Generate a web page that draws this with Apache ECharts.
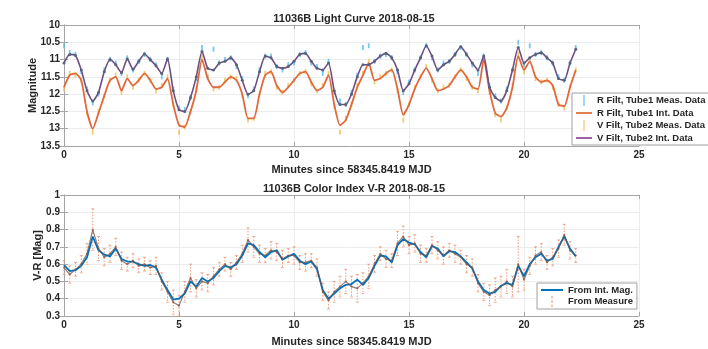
<!DOCTYPE html>
<html>
<head>
<meta charset="utf-8">
<script src="https://cdn.jsdelivr.net/npm/echarts@6/dist/echarts.min.js"></script>
<style>
  html, body { margin: 0; padding: 0; background: #fff; }
  #chart { width: 708px; height: 349px; }
</style>
</head>
<body>
<div id="chart"></div>
<script>
// time axis, minutes since 58345.8419 MJD
const minutes = [
  0, 0.25, 0.5, 0.75, 1, 1.25, 1.5, 1.75, 2, 2.25,
  2.5, 2.75, 3, 3.25, 3.5, 3.75, 4, 4.25, 4.5, 4.75,
  5, 5.25, 5.5, 5.75, 6, 6.25, 6.5, 6.75, 7, 7.25,
  7.5, 7.75, 8, 8.25, 8.5, 8.75, 9, 9.25, 9.5, 9.75,
  10, 10.25, 10.5, 10.75, 11, 11.25, 11.5, 11.75, 12, 12.25,
  12.5, 12.75, 13, 13.25, 13.5, 13.75, 14, 14.25, 14.5, 14.75,
  15, 15.25, 15.5, 15.75, 16, 16.25, 16.5, 16.75, 17, 17.25,
  17.5, 17.75, 18, 18.25, 18.5, 18.75, 19, 19.25, 19.5, 19.75,
  20, 20.25, 20.5, 20.75, 21, 21.25, 21.5, 21.75, 22, 22.25
]

// upper (brighter) curve: blue measured points, purple interpolated line
const upperMeas = [
  10.6, 10.8, 10.85, 11.35, 11.85, 12.25, 12.0, 11.3, 11.0, 11.1,
  11.4, 10.95, 11.3, 11.05, 10.85, 11.0, 11.15, 11.5, 11.0, 11.85,
  12.4, 12.45, 12.1, 11.55, 10.65, 11.5, 10.7, 11.1, 11.0, 10.95,
  11.2, 11.55, 12.05, 11.85, 11.3, 10.9, 10.9, 11.2, 11.3, 11.15,
  11.1, 10.85, 10.8, 11.1, 11.2, 11.4, 11.05, 11.95, 12.2, 12.3,
  11.95, 11.45, 10.65, 10.6, 11.05, 10.9, 10.85, 10.95, 11.35, 11.95,
  11.65, 11.3, 10.95, 10.6, 10.95, 11.3, 11.1, 11.05, 10.85, 10.65,
  10.85, 11.15, 11.4, 10.9, 11.75, 12.05, 12.2, 11.85, 11.3, 10.5,
  11.15, 10.6, 10.85, 10.8, 10.95, 11.1, 11.5, 11.6, 11.1, 10.65
]
const upperInt = [
  11.1, 10.85, 10.88, 11.3, 11.9, 12.2, 11.95, 11.35, 11.0, 11.15,
  11.38, 10.98, 11.28, 11.05, 10.84, 11.0, 11.18, 11.4, 10.98, 11.9,
  12.45, 12.5, 12.1, 11.5, 10.77, 11.25, 11.3, 11.1, 11.05, 10.95,
  11.15, 11.6, 12.0, 11.9, 11.35, 10.9, 10.95, 11.2, 11.25, 11.2,
  11.05, 10.85, 10.82, 11.05, 11.25, 11.3, 11.1, 11.9, 12.3, 12.3,
  12.0, 11.5, 11.15, 11.15, 11.05, 10.9, 10.82, 10.95, 11.3, 11.9,
  11.7, 11.3, 10.95, 10.6, 10.9, 11.3, 11.15, 11.05, 10.85, 10.63,
  10.85, 11.1, 11.3, 10.9, 11.8, 12.1, 12.2, 11.9, 11.3, 10.65,
  11.1, 10.95, 10.85, 10.8, 10.95, 11.1, 11.55, 11.6, 11.1, 10.7
]

// lower (fainter) curve: yellow measured points, orange interpolated line
const lowerMeas = [
  11.85, 11.4, 11.45, 11.6, 12.55, 13.1, 12.5, 12.05, 11.6, 11.45,
  11.95, 11.5, 11.8, 11.6, 11.4, 11.6, 11.9, 11.75, 11.5, 12.3,
  13.1, 12.95, 12.5, 11.85, 10.95, 11.5, 11.85, 11.8, 11.6, 11.5,
  11.55, 12.05, 12.75, 12.7, 12.0, 11.4, 11.35, 11.8, 11.95, 11.75,
  11.6, 11.4, 11.35, 11.7, 11.9, 11.75, 11.4, 12.35, 13.1, 12.7,
  12.3, 11.75, 11.4, 11.05, 11.65, 11.5, 11.4, 11.3, 11.9, 12.75,
  12.3, 11.8, 11.5, 11.2, 11.6, 11.9, 11.8, 11.75, 11.5, 11.3,
  11.55, 11.8, 11.9, 10.95, 11.95, 12.6, 12.75, 12.4, 11.75, 10.85,
  11.35, 11.0, 11.55, 11.65, 11.6, 11.8, 12.3, 12.4, 11.8, 11.3
]
const lowerInt = [
  11.8, 11.45, 11.4, 11.6, 12.5, 13.0, 12.55, 12.05, 11.6, 11.5,
  11.9, 11.55, 11.75, 11.6, 11.4, 11.6, 11.85, 11.8, 11.55, 12.3,
  12.9, 12.95, 12.5, 11.9, 11.0, 11.55, 11.8, 11.8, 11.65, 11.5,
  11.6, 12.0, 12.7, 12.7, 12.0, 11.45, 11.35, 11.75, 11.95, 11.8,
  11.6, 11.4, 11.35, 11.65, 11.9, 11.8, 11.45, 12.3, 12.9, 12.75,
  12.3, 11.8, 11.45, 11.1, 11.6, 11.55, 11.4, 11.3, 11.85, 12.6,
  12.3, 11.85, 11.5, 11.25, 11.55, 11.9, 11.85, 11.75, 11.5, 11.3,
  11.5, 11.8, 11.85, 11.0, 11.9, 12.55, 12.65, 12.4, 11.8, 10.9,
  11.3, 11.05, 11.5, 11.65, 11.6, 11.75, 12.3, 12.35, 11.8, 11.3
]

// color index V-R
const ciInt = [
  0.595, 0.56, 0.565, 0.59, 0.64, 0.76, 0.68, 0.655, 0.645, 0.69,
  0.63, 0.615, 0.614, 0.60, 0.59, 0.595, 0.58, 0.51, 0.45, 0.395,
  0.40, 0.43, 0.5, 0.47, 0.52, 0.50, 0.52, 0.56, 0.59, 0.58,
  0.60, 0.65, 0.72, 0.71, 0.67, 0.64, 0.67, 0.68, 0.625, 0.645,
  0.66, 0.62, 0.60, 0.615, 0.57, 0.45, 0.40, 0.43, 0.46, 0.48,
  0.485, 0.51, 0.48, 0.52, 0.59, 0.65, 0.645, 0.61, 0.71, 0.745,
  0.725, 0.715, 0.67, 0.64, 0.705, 0.69, 0.645, 0.675, 0.67, 0.645,
  0.61, 0.575, 0.50, 0.45, 0.43, 0.44, 0.475, 0.49, 0.48, 0.59,
  0.53, 0.60, 0.64, 0.66, 0.62, 0.63, 0.70, 0.76, 0.69, 0.645
]
const ciMeas = [
  0.58, 0.54, 0.57, 0.60, 0.66, 0.80, 0.69, 0.64, 0.66, 0.70,
  0.62, 0.60, 0.62, 0.59, 0.60, 0.58, 0.59, 0.50, 0.44, 0.38,
  0.36, 0.44, 0.52, 0.46, 0.50, 0.49, 0.53, 0.57, 0.60, 0.57,
  0.61, 0.66, 0.74, 0.70, 0.66, 0.65, 0.68, 0.67, 0.63, 0.65,
  0.65, 0.61, 0.61, 0.62, 0.58, 0.44, 0.39, 0.44, 0.47, 0.50,
  0.47, 0.46, 0.49, 0.53, 0.60, 0.66, 0.63, 0.62, 0.72, 0.76,
  0.71, 0.72, 0.66, 0.65, 0.71, 0.68, 0.65, 0.68, 0.66, 0.64,
  0.60, 0.58, 0.49, 0.44, 0.42, 0.45, 0.47, 0.50, 0.47, 0.60,
  0.51, 0.59, 0.65, 0.67, 0.61, 0.64, 0.69, 0.77, 0.68, 0.65
]
const ciErr = [
  0.04, 0.05, 0.04, 0.05, 0.06, 0.12, 0.07, 0.05, 0.05, 0.05,
  0.05, 0.04, 0.04, 0.04, 0.04, 0.04, 0.05, 0.05, 0.06, 0.07,
  0.06, 0.06, 0.08, 0.05, 0.05, 0.05, 0.05, 0.04, 0.04, 0.04,
  0.04, 0.05, 0.07, 0.06, 0.05, 0.04, 0.05, 0.05, 0.05, 0.04,
  0.05, 0.04, 0.05, 0.04, 0.05, 0.05, 0.05, 0.06, 0.06, 0.07,
  0.06, 0.08, 0.06, 0.07, 0.05, 0.04, 0.05, 0.04, 0.07, 0.06,
  0.05, 0.05, 0.05, 0.04, 0.05, 0.05, 0.05, 0.04, 0.05, 0.04,
  0.05, 0.05, 0.05, 0.05, 0.06, 0.07, 0.06, 0.07, 0.06, 0.16,
  0.06, 0.05, 0.05, 0.05, 0.04, 0.05, 0.05, 0.06, 0.05, 0.04
]

const FONT = '"Liberation Sans", Arial, sans-serif'
const TEXT = '#262626'
const AXIS = '#a6a6a6'
const GRIDLINE = '#ececec'

const BAR_ICON = 'path://M0,0h1v8h-1z'
const LINE_ICON = 'path://M0,0h16v1.5h-16z'
const DOT_ICON = 'path://M0,0h1v2h-1zM0,3.5h1v2h-1zM0,7h1v2h-1z'

const zip = (ys) => minutes.map((t, i) => [t, ys[i]])

const chart = echarts.init(document.getElementById('chart'), null, { renderer: 'canvas' })

function xAxisPair(gridIndex, nameGap) {
  return [
    {
      gridIndex, type: 'value', min: 0, max: 25, interval: 5, position: 'bottom',
      name: 'Minutes since 58345.8419 MJD', nameLocation: 'middle', nameGap, nameMoveOverlap: false,
      nameTextStyle: { fontFamily: FONT, fontSize: 11, fontWeight: 'bold', color: TEXT },
      axisLine: { show: true, lineStyle: { color: AXIS } },
      axisTick: { inside: true, length: 4, lineStyle: { color: AXIS } },
      axisLabel: { fontFamily: FONT, fontSize: 10, fontWeight: 'bold', color: TEXT, margin: 4 },
      splitLine: { show: true, lineStyle: { color: GRIDLINE } },
    },
    {
      gridIndex, type: 'value', min: 0, max: 25, interval: 5, position: 'top',
      axisLine: { show: true, lineStyle: { color: AXIS } },
      axisTick: { inside: true, length: 4, lineStyle: { color: AXIS } },
      axisLabel: { show: false },
      splitLine: { show: false },
    },
  ]
}

function yAxisPair(gridIndex, min, max, interval, inverse, name, nameGap) {
  return [
    {
      gridIndex, type: 'value', min, max, interval, inverse, position: 'left',
      name, nameLocation: 'middle', nameGap, nameMoveOverlap: false,
      nameTextStyle: { fontFamily: FONT, fontSize: 11, fontWeight: 'bold', color: TEXT },
      axisLine: { show: true, lineStyle: { color: AXIS } },
      axisTick: { inside: true, length: 4, lineStyle: { color: AXIS } },
      axisLabel: { fontFamily: FONT, fontSize: 10, fontWeight: 'bold', color: TEXT, margin: 4 },
      splitLine: { show: true, lineStyle: { color: GRIDLINE } },
    },
    {
      gridIndex, type: 'value', min, max, interval, inverse, position: 'right',
      axisLine: { show: true, lineStyle: { color: AXIS } },
      axisTick: { inside: true, length: 4, lineStyle: { color: AXIS } },
      axisLabel: { show: false },
      splitLine: { show: false },
    },
  ]
}

// vertical error bar with dotted stem, small caps and a dot
function errorBar(params, api) {
  const x = api.value(0)
  const y = api.value(1)
  const e = api.value(2)
  const hi = api.coord([x, y + e])
  const lo = api.coord([x, y - e])
  const c = api.coord([x, y])
  const col = '#EC9A7C'
  return {
    type: 'group',
    children: [
      { type: 'line', shape: { x1: hi[0], y1: hi[1], x2: lo[0], y2: lo[1] }, style: { stroke: col, lineWidth: 1, lineDash: [1.5, 1.5] } },
      { type: 'line', shape: { x1: hi[0] - 1.5, y1: hi[1], x2: hi[0] + 1.5, y2: hi[1] }, style: { stroke: col, lineWidth: 0.8 } },
      { type: 'line', shape: { x1: lo[0] - 1.5, y1: lo[1], x2: lo[0] + 1.5, y2: lo[1] }, style: { stroke: col, lineWidth: 0.8 } },
      { type: 'circle', shape: { cx: c[0], cy: c[1], r: 1.1 }, style: { fill: '#DD7A52' } },
    ],
  }
}

const legendText = { fontFamily: FONT, fontSize: 9.5, fontWeight: 'bold', color: TEXT }

chart.setOption({
  animation: false,
  backgroundColor: '#fff',
  title: [
    { text: '11036B Light Curve 2018-08-15', left: 'center', top: 8, textStyle: { fontFamily: FONT, fontSize: 11, fontWeight: 'bold', color: TEXT } },
    { text: '11036B Color Index V-R 2018-08-15', left: 'center', top: 178, textStyle: { fontFamily: FONT, fontSize: 11, fontWeight: 'bold', color: TEXT } },
  ],
  legend: [
    {
      left: 572, top: 93, orient: 'vertical', selectedMode: false,
      backgroundColor: '#fff', borderColor: '#a0a0a0', borderWidth: 1, borderRadius: 0,
      padding: [2, 4, 2, 4], itemGap: 2, itemWidth: 16, itemHeight: 11,
      textStyle: legendText,
      data: [
        { name: 'R Filt, Tube1 Meas. Data', icon: BAR_ICON },
        { name: 'R Filt, Tube1 Int. Data', icon: LINE_ICON },
        { name: 'V Filt, Tube2 Meas. Data', icon: BAR_ICON },
        { name: 'V Filt, Tube2 Int. Data', icon: LINE_ICON, itemStyle: { color: '#7E2F8E' } },
      ],
    },
    {
      left: 537, top: 283, orient: 'vertical', selectedMode: false,
      backgroundColor: '#fff', borderColor: '#a0a0a0', borderWidth: 1, borderRadius: 0,
      padding: [2, 4, 2, 4], itemGap: 1, itemWidth: 22, itemHeight: 11,
      textStyle: legendText,
      data: [
        { name: 'From Int. Mag.', icon: LINE_ICON },
        { name: 'From Measure', icon: DOT_ICON, itemStyle: { color: '#EC9A7C' } },
      ],
    },
  ],
  grid: [
    { left: 64, top: 25, width: 575, height: 121, show: true, backgroundColor: '#fff', borderWidth: 0 },
    { left: 64, top: 195, width: 575, height: 121, show: true, backgroundColor: '#fff', borderWidth: 0 },
  ],
  xAxis: [...xAxisPair(0, 18), ...xAxisPair(1, 20)],
  yAxis: [
    ...yAxisPair(0, 10, 13.5, 0.5, true, 'Magnitude', 26),
    ...yAxisPair(1, 0.3, 1, 0.1, false, 'V-R [Mag]', 21),
  ],
  series: [
    {
      name: 'R Filt, Tube1 Meas. Data', type: 'scatter', xAxisIndex: 0, yAxisIndex: 0,
      data: zip(upperMeas), symbol: 'rect', symbolSize: [1.8, 5],
      itemStyle: { color: '#4DBEEE' },
    },
    {
      name: 'R Filt, Tube1 Int. Data', type: 'line', xAxisIndex: 0, yAxisIndex: 0,
      data: zip(lowerInt), symbol: 'none', smooth: 0.2,
      lineStyle: { color: '#E0683A', width: 1.8 }, itemStyle: { color: '#D95319' },
    },
    {
      name: 'V Filt, Tube2 Meas. Data', type: 'scatter', xAxisIndex: 0, yAxisIndex: 0,
      data: zip(lowerMeas), symbol: 'rect', symbolSize: [1.8, 5],
      itemStyle: { color: '#F0C050' },
    },
    {
      name: 'V Filt, Tube2 Int. Data', type: 'line', xAxisIndex: 0, yAxisIndex: 0,
      data: zip(upperInt), symbol: 'circle', symbolSize: 3, showSymbol: true, smooth: 0.2,
      lineStyle: { color: '#6c4f82', width: 1.6 }, itemStyle: { color: '#58627a' },
    },
    {
      name: 'From Int. Mag.', type: 'line', xAxisIndex: 2, yAxisIndex: 2,
      data: zip(ciInt), symbol: 'none',
      lineStyle: { color: '#0072BD', width: 1.8 }, itemStyle: { color: '#0072BD' },
    },
    {
      name: 'From Measure', type: 'custom', xAxisIndex: 2, yAxisIndex: 2,
      data: minutes.map((t, i) => [t, ciMeas[i], ciErr[i]]),
      encode: { x: 0, y: 1 },
      renderItem: errorBar,
      itemStyle: { color: '#EC9A7C' },
      z: 3,
    },
    {
      name: 'From Measure', type: 'line', xAxisIndex: 2, yAxisIndex: 2,
      data: zip(ciMeas), symbol: 'none',
      lineStyle: { color: '#6a5650', width: 1.2, opacity: 0.75 },
      z: 4,
    },
  ],
})

window.addEventListener('resize', () => chart.resize())
</script>
</body>
</html>
